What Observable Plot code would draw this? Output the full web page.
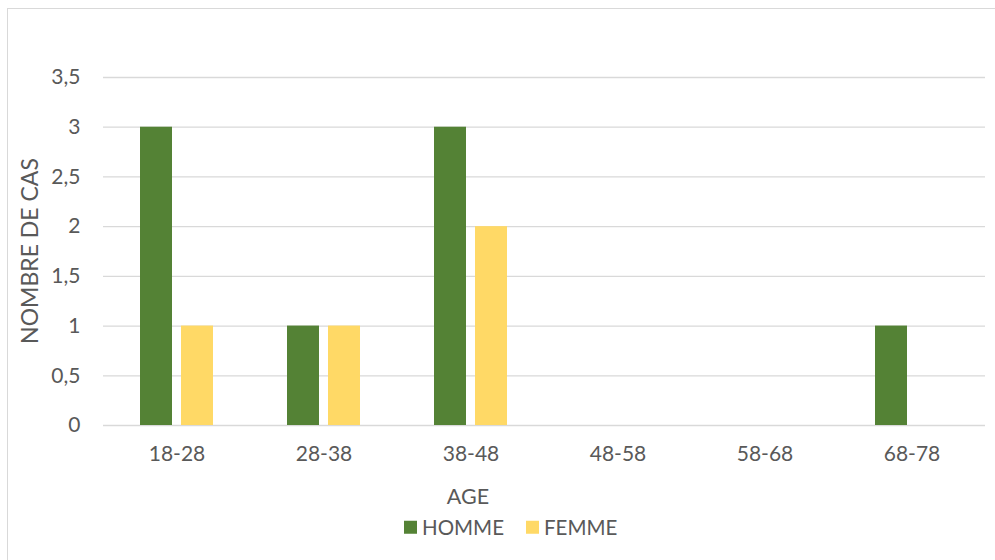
<!DOCTYPE html>
<html>
<head>
<meta charset="utf-8">
<script src="https://cdn.jsdelivr.net/npm/d3@7"></script>
<script src="https://cdn.jsdelivr.net/npm/@observablehq/plot@0.6"></script>
<style>
  html, body { margin: 0; padding: 0; background: #fff; }
  body { width: 995px; height: 560px; position: relative; overflow: hidden; font-family: Lato, "Open Sans", sans-serif; color: #595959; }
  #frame { position: absolute; left: 7px; top: 8px; width: 1000px; height: 600px; border: 1px solid #d9d9d9; box-sizing: border-box; }
  #chart { position: absolute; left: 0; top: 0; }
  #ytitle { position: absolute; left: 29px; top: 251px; transform: translate(-50%, -50%) rotate(-90deg); font-size: 23px; white-space: nowrap; line-height: 1; }
  #xtitle { position: absolute; left: 468px; top: 497px; transform: translate(-50%, -50%); font-size: 21.5px; line-height: 1; }
  #legend { position: absolute; left: 404px; top: 527px; transform: translateY(-50%); display: flex; align-items: center; font-size: 20.5px; line-height: 1; }
  #legend .sw { width: 13px; height: 13px; display: inline-block; margin-right: 5px; }
  #legend .item { display: flex; align-items: center; margin-right: 22px; }
</style>
</head>
<body>
<div id="frame"></div>
<div id="chart"></div>
<div id="ytitle">NOMBRE DE CAS</div>
<div id="xtitle">AGE</div>
<div id="legend"></div>
<script>
// Number of cases per age group, by sex
const ageGroups = ["18-28", "28-38", "38-48", "48-58", "58-68", "68-78"];
const hommeValues = [3, 1, 3, 0, 0, 1];
const femmeValues = [1, 1, 2, 0, 0, 0];
const seriesNames = ["HOMME", "FEMME"];
const seriesColors = ["#548235", "#FFD966"];
const yTicks = [0, 0.5, 1, 1.5, 2, 2.5, 3, 3.5];

const rows = [];
ageGroups.forEach((age, i) => {
  rows.push({age, sexe: seriesNames[0], n: hommeValues[i]});
  rows.push({age, sexe: seriesNames[1], n: femmeValues[i]});
});

const frFormat = v => String(v).replace(".", ",");

const chart = Plot.plot({
  width: 995,
  height: 480,
  marginLeft: 103,
  marginRight: 10,
  marginTop: 77,
  marginBottom: 55,
  style: {fontFamily: "Lato, 'Open Sans', sans-serif", fontSize: "21px", color: "#595959", background: "transparent"},
  fx: {domain: ageGroups, padding: 0, label: null},
  x: {domain: seriesNames, paddingInner: 0.21, paddingOuter: 0.86, axis: null},
  y: {domain: [0, 3.5], ticks: yTicks, label: null},
  color: {domain: seriesNames, range: seriesColors},
  marks: [
    Plot.gridY(yTicks, {stroke: "#d9d9d9", strokeOpacity: 1, strokeWidth: 1.3}),
    Plot.axisY(yTicks, {tickSize: 0, tickPadding: 23, tickFormat: frFormat, fontSize: 21, label: null}),
    Plot.axisFx({anchor: "bottom", tickSize: 0, tickPadding: 21, fontSize: 21, label: null}),
    Plot.barY(rows, {fx: "age", x: "sexe", y: "n", fill: "sexe"})
  ]
});
document.getElementById("chart").appendChild(chart);

// Legend
const legend = document.getElementById("legend");
seriesNames.forEach((name, i) => {
  const item = document.createElement("span");
  item.className = "item";
  const sw = document.createElement("span");
  sw.className = "sw";
  sw.style.background = seriesColors[i];
  item.appendChild(sw);
  item.appendChild(document.createTextNode(name));
  legend.appendChild(item);
});
</script>
</body>
</html>
